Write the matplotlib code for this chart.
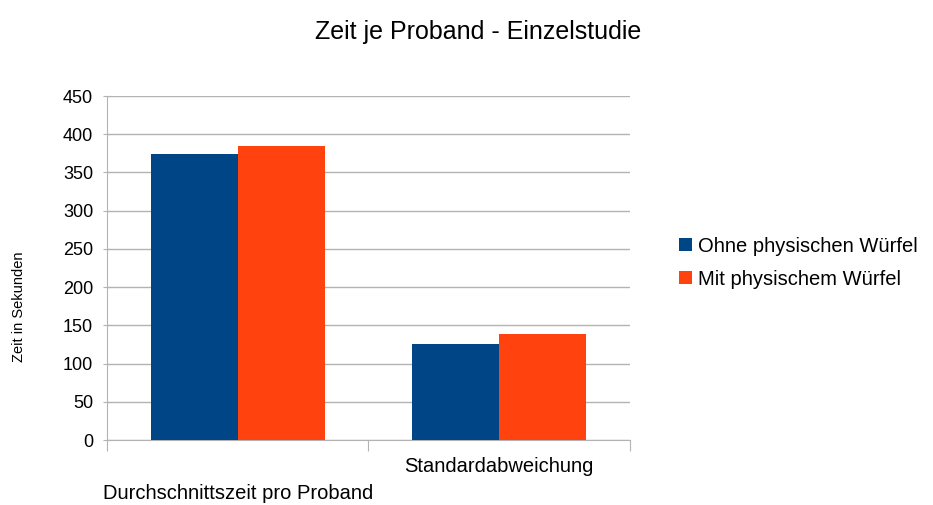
import numpy as np
import matplotlib
matplotlib.use('Agg')
import matplotlib.pyplot as plt

plt.rcParams['font.family'] = ['Liberation Sans', 'DejaVu Sans']

kategorien = ['Durchschnittszeit pro Proband', 'Standardabweichung']
ohne = [374, 126]
mit = [385, 139]
serien = ['Ohne physischen Würfel', 'Mit physischem Würfel']
farben = ['#004586', '#ff420e']

fig = plt.figure(figsize=(9.33, 5.05), dpi=100)
ax = fig.add_axes([0.1147, 0.1287, 0.5605, 0.6812])

x = np.arange(len(kategorien))
w = 0.333
ax.bar(x - w / 2, ohne, w, color=farben[0], label=serien[0], zorder=3)
ax.bar(x + w / 2, mit, w, color=farben[1], label=serien[1], zorder=3)

ax.set_xlim(-0.5, 1.5)
ax.set_ylim(0, 450)
ax.set_yticks(np.arange(0, 451, 50))
ax.yaxis.grid(True, color='#b3b3b3', linewidth=1, zorder=0)
for s in ['top', 'right']:
    ax.spines[s].set_visible(False)
ax.spines['bottom'].set_color('#b3b3b3')
ax.spines['left'].set_color('#b3b3b3')
ax.tick_params(axis='y', colors='#b3b3b3', labelcolor='black', labelsize=13, length=6,
               direction='inout', pad=7)
ax.set_xticks([-0.5, 0.5, 1.5])
ax.set_xticklabels([])
ax.tick_params(axis='x', colors='#b3b3b3', length=8, direction='out')

# versetzte Kategorienbeschriftung
ax.text(0, -0.155, kategorien[0], transform=ax.get_xaxis_transform(), ha='center', va='center', fontsize=14.5)
ax.text(1, -0.078, kategorien[1], transform=ax.get_xaxis_transform(), ha='center', va='center', fontsize=14.5)

ax.set_ylabel('Zeit in Sekunden', fontsize=10.5)
ax.yaxis.set_label_coords(-0.155, 0.387)
fig.suptitle('Zeit je Proband - Einzelstudie', fontsize=18, x=0.512, y=0.96)

ax.legend(loc='center left', bbox_to_anchor=(1.06, 0.515), frameon=False, fontsize=14.5,
          handlelength=0.6, handleheight=0.6, handletextpad=0.3, labelspacing=0.7)

fig.savefig('out.png', dpi=100)
